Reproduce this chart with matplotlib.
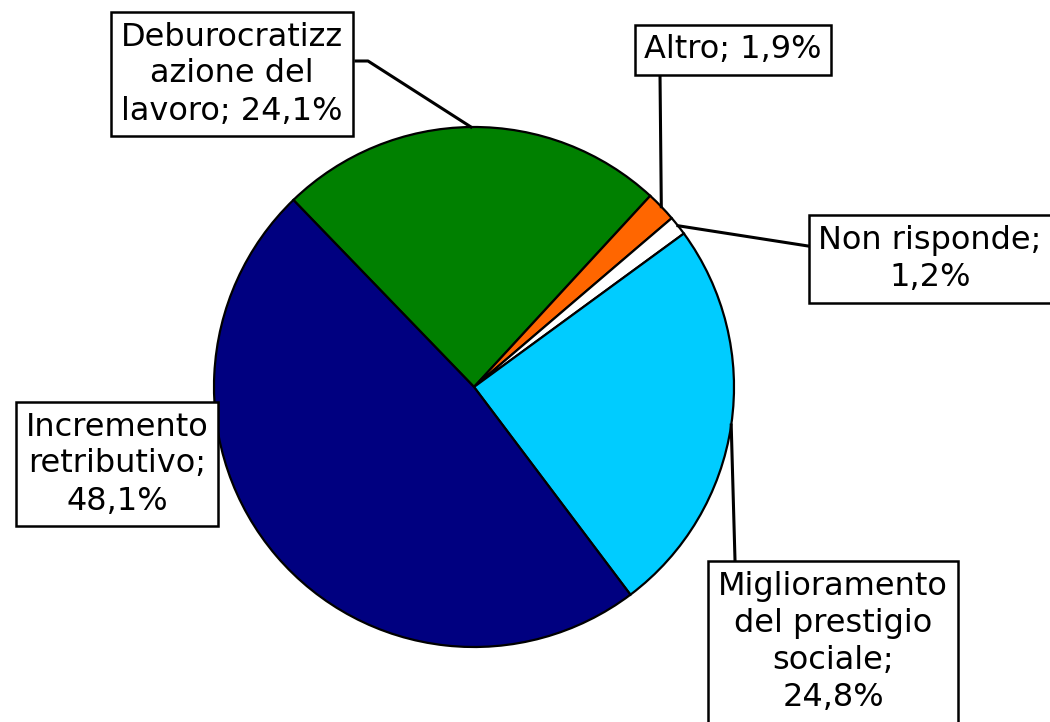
import numpy as np
import matplotlib
matplotlib.use("Agg")
from matplotlib import pyplot as plt

# slices, clockwise from the upper-left boundary
labels = ["Deburocratizz\nazione del\nlavoro; 24,1%", "Altro; 1,9%", "Non risponde;\n1,2%",
          "Miglioramento\ndel prestigio\nsociale;\n24,8%", "Incremento\nretributivo;\n48,1%"]
values = [24.1, 1.9, 1.2, 24.8, 48.1]
colors = ["#008000", "#FF6600", "#FFFFFF", "#00CCFF", "#000080"]

W, H = 1050, 722
fig = plt.figure(figsize=(W / 100, H / 100), dpi=100)
ax = fig.add_axes([0, 0, 1, 1])

cx, cy, r = 474, H - 387, 260
wedges, _ = ax.pie(values, colors=colors, startangle=134, counterclock=False,
                   center=(cx, cy), radius=r, frame=True,
                   wedgeprops=dict(edgecolor="black", linewidth=1.6))
ax.set_xlim(0, W)
ax.set_ylim(0, H)
ax.set_aspect("equal")
ax.axis("off")

# box centre (pixels, y down) and leader path from the box side
boxes = [
    ((232, 74), [(356, 61), (368, 61)]),
    ((733, 50), [(660, 74)]),
    ((930, 259), [(808, 246)]),
    ((833, 642), [(735, 560)]),
    ((117, 464), None),
]

for w, lab, (pos, path) in zip(wedges, labels, boxes):
    ax.text(pos[0], H - pos[1], lab, ha="center", va="center", fontsize=23,
            family="DejaVu Sans", linespacing=1.25, zorder=5,
            bbox=dict(boxstyle="square,pad=0.3", fc="white", ec="black", lw=1.8))
    if path:
        mid = np.deg2rad((w.theta1 + w.theta2) / 2)
        ex, ey = cx + r * np.cos(mid), cy + r * np.sin(mid)
        xs = [p[0] for p in path] + [ex]
        ys = [H - p[1] for p in path] + [ey]
        ax.plot(xs, ys, color="black", lw=2.2, zorder=4)

fig.savefig("out.png", dpi=100, facecolor="white")
